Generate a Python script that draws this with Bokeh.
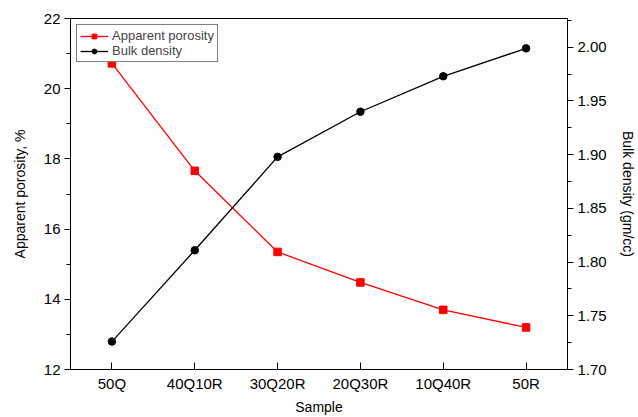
import math
from bokeh.plotting import figure
from bokeh.models import (Range1d, LinearAxis, SingleIntervalTicker, PrintfTickFormatter,
                          FactorRange, Legend, LegendItem)
from bokeh.embed import file_html
from bokeh.resources import INLINE

samples = ["50Q", "40Q10R", "30Q20R", "20Q30R", "10Q40R", "50R"]
apparent_porosity = [20.72, 17.66, 15.35, 14.48, 13.70, 13.20]
bulk_density = [1.726, 1.811, 1.898, 1.940, 1.973, 1.999]

FONT = "Liberation Sans"

p = figure(width=638, height=417, output_backend="svg", toolbar_location=None,
           x_range=FactorRange(*samples, range_padding=0), y_range=Range1d(12, 22),
           min_border_left=70, min_border_right=68, min_border_top=18, min_border_bottom=46)
p.xgrid.visible = False
p.ygrid.visible = False
p.outline_line_color = "black"
p.outline_line_width = 1
p.background_fill_color = "#fdfdfd"

p.extra_y_ranges = {"bd": Range1d(1.70, 2.0268)}
raxis = LinearAxis(y_range_name="bd")
p.add_layout(raxis, "right")

la = p.yaxis[0]
la.ticker = SingleIntervalTicker(interval=2, num_minor_ticks=2)
la.axis_label = "Apparent porosity, %"
la.axis_label_standoff = 13

raxis.ticker = SingleIntervalTicker(interval=0.05, num_minor_ticks=2)
raxis.formatter = PrintfTickFormatter(format="%.2f")
raxis.axis_label = "Bulk density (gm/cc)"
raxis.axis_label_standoff = 10
if "axis_label_orientation" in raxis.properties():
    raxis.axis_label_orientation = "vertical"

xa = p.xaxis[0]
xa.axis_label = "Sample"

for ax in [la, raxis]:
    ax.major_tick_in = 0
    ax.major_tick_out = 6
    ax.minor_tick_in = 0
    ax.minor_tick_out = 4
    ax.major_label_standoff = 4

xa.major_tick_in = 7
xa.major_tick_out = 0
xa.major_label_standoff = 5
xa.axis_label_standoff = 4

for ax in [la, raxis, xa]:
    ax.axis_line_color = "black"
    ax.axis_line_width = 1
    ax.major_tick_line_color = "black"
    ax.minor_tick_line_color = "black"
    ax.major_label_text_font = FONT
    ax.major_label_text_font_size = "15px"
    ax.major_label_text_color = "black"
    ax.axis_label_text_font = FONT
    ax.axis_label_text_font_size = "14px"
    ax.axis_label_text_font_style = "normal"
    ax.axis_label_text_color = "black"

r1l = p.line(samples, apparent_porosity, line_color="red", line_width=1.3)
r1m = p.scatter(samples, apparent_porosity, marker="square", size=7.5,
                fill_color="red", line_color="red")
r2l = p.line(samples, bulk_density, line_color="black", line_width=1.3, y_range_name="bd")
r2m = p.scatter(samples, bulk_density, marker="circle", size=7.5,
                fill_color="black", line_color="black", y_range_name="bd")

legend = Legend(items=[LegendItem(label="Apparent porosity", renderers=[r1l, r1m]),
                       LegendItem(label="Bulk density", renderers=[r2l, r2m])],
                location="top_left")
legend.label_text_font = FONT
legend.label_text_font_size = "13px"
legend.label_height = 12
legend.glyph_height = 12
legend.glyph_width = 28
legend.spacing = 0
legend.padding = 3
legend.margin = 6
legend.label_standoff = 4
legend.border_line_color = "black"
legend.border_line_width = 1.5
legend.background_fill_alpha = 1
p.add_layout(legend)

open("out.html", "w").write(file_html(p, INLINE))
